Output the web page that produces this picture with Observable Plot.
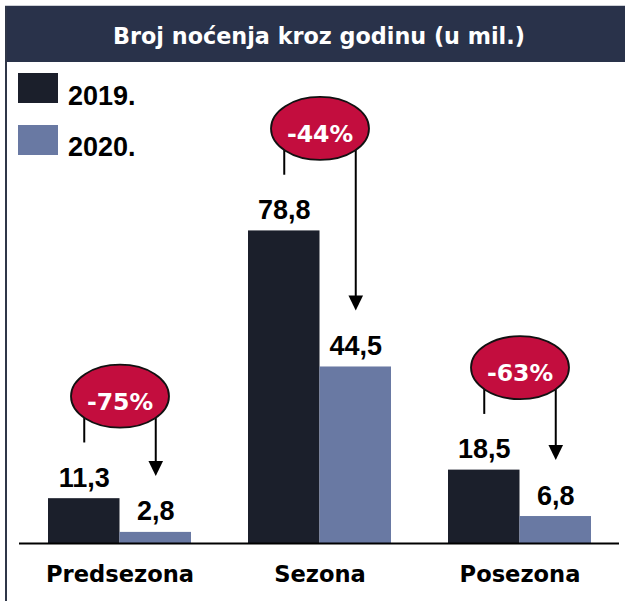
<!DOCTYPE html>
<html>
<head>
<meta charset="utf-8">
<script src="https://cdn.jsdelivr.net/npm/d3@7"></script>
<script src="https://cdn.jsdelivr.net/npm/@observablehq/plot@0.6"></script>
<style>
  html, body { margin: 0; padding: 0; background: #fff; }
  #wrap { position: relative; width: 625px; height: 601px; overflow: hidden; background: #fff; }
  #topline { position: absolute; left: 5px; top: 5px; width: 620px; height: 1px; background: #cdd0d6; }
  #header { position: absolute; left: 5px; top: 6px; width: 620px; height: 56px; background: #29324a; }
  #title { position: absolute; left: 13px; top: 25px; width: 612px; text-align: center; color: #fff;
           font-family: "DejaVu Sans", sans-serif; font-weight: bold; font-size: 22.3px; line-height: 1; white-space: nowrap; }
  #leftline { position: absolute; left: 5px; top: 6px; width: 2px; height: 595px; background: #2f3648; }
  .sw { position: absolute; left: 18px; width: 40px; height: 30px; }
  .lt { position: absolute; left: 68px; font-family: "Liberation Sans", Arial, sans-serif; font-weight: bold;
        font-size: 27px; line-height: 1; color: #000; white-space: nowrap; }
  #chart { position: absolute; left: 0; top: 62px; }
</style>
</head>
<body>
<div id="wrap">
  <div id="chart"></div>
  <div id="topline"></div>
  <div id="header"></div>
  <div id="title"></div>
  <div id="leftline"></div>
  <div id="legend"></div>
</div>
<script>
const titleText = "Broj noćenja kroz godinu (u mil.)";
const categories = ["Predsezona", "Sezona", "Posezona"];
const values2019 = [11.3, 78.8, 18.5];
const values2020 = [2.8, 44.5, 6.8];
const changeLabels = ["-75%", "-44%", "-63%"];
const years = ["2019.", "2020."];
const colors = ["#1b1f2b", "#6979a3"];

document.getElementById("title").textContent = titleText;

// legend
const legend = document.getElementById("legend");
const swTops = [73, 125];
const txtTops = [83, 134];
years.forEach((y, i) => {
  const sw = document.createElement("div");
  sw.className = "sw";
  sw.style.top = swTops[i] + "px";
  sw.style.background = colors[i];
  legend.appendChild(sw);
  const t = document.createElement("div");
  t.className = "lt";
  t.style.top = txtTops[i] + "px";
  t.textContent = y;
  legend.appendChild(t);
});

const rows = categories.map((c, i) => ({
  category: c, v2019: values2019[i], v2020: values2020[i], change: changeLabels[i]
}));
const fmt = v => v.toFixed(1).replace(".", ",");

const ellipse = {
  draw(ctx) {
    const a = 49, b = 31.5, k = 0.5523;
    ctx.moveTo(a, 0);
    ctx.bezierCurveTo(a, b * k, a * k, b, 0, b);
    ctx.bezierCurveTo(-a * k, b, -a, b * k, -a, 0);
    ctx.bezierCurveTo(-a, -b * k, -a * k, -b, 0, -b);
    ctx.bezierCurveTo(a * k, -b, a, -b * k, a, 0);
    ctx.closePath();
  }
};
const arrowHead = {
  draw(ctx) {
    ctx.moveTo(-7.3, -15);
    ctx.lineTo(7.3, -15);
    ctx.lineTo(0, 0);
    ctx.closePath();
  }
};

const half = 35.75;
const valueFont = {fontFamily: "Liberation Sans, Arial, sans-serif", fontWeight: "bold", fontSize: 27, fill: "#000"};

const chart = Plot.plot({
  width: 625,
  height: 539,
  marginTop: 5,
  marginBottom: 58,
  marginLeft: 19,
  marginRight: 6,
  style: {background: "transparent", overflow: "visible"},
  x: {type: "band", domain: categories, paddingInner: 0.285, paddingOuter: 0.1425, axis: null},
  y: {domain: [0, 120], axis: null},
  marks: [
    Plot.barY(rows, {x: "category", y: "v2019", fill: colors[0], insetRight: 71.5}),
    Plot.barY(rows, {x: "category", y: "v2020", fill: colors[1], insetLeft: 71.5}),
    Plot.ruleY([0], {stroke: "#000", strokeWidth: 2}),
    Plot.text(rows, {x: "category", y: "v2019", text: d => fmt(d.v2019), dx: -half, dy: -12, lineAnchor: "bottom", ...valueFont}),
    Plot.text(rows, {x: "category", y: "v2020", text: d => fmt(d.v2020), dx: half, dy: -12, lineAnchor: "bottom", ...valueFont}),
    Plot.text(rows, {x: "category", y: d => 0, text: "category", dy: 38, lineAnchor: "bottom",
      fontFamily: "DejaVu Sans, sans-serif", fontWeight: "bold", fontSize: 22.6, fill: "#000"}),
    Plot.ruleX(rows, {x: "category", y1: "v2019", y2: "v2019", dx: -half, insetTop: -102, insetBottom: 55.7, stroke: "#000", strokeWidth: 2}),
    Plot.ruleX(rows, {x: "category", y1: "v2019", y2: "v2020", dx: half, insetTop: -102, insetBottom: 69, stroke: "#000", strokeWidth: 2}),
    Plot.dot(rows, {x: "category", y: "v2020", dx: half, dy: -56.5, symbol: arrowHead, r: 5, fill: "#000", stroke: "none"}),
    Plot.dot(rows, {x: "category", y: "v2019", dy: -102.5, symbol: ellipse, r: 30, fill: "#c30d3e", stroke: "#111", strokeWidth: 1.8}),
    Plot.text(rows, {x: "category", y: "v2019", text: "change", dy: -89, lineAnchor: "bottom",
      fontFamily: "DejaVu Sans, sans-serif", fontWeight: "bold", fontSize: 23.6, fill: "#fff"})
  ]
});
document.getElementById("chart").appendChild(chart);
</script>
</body>
</html>
